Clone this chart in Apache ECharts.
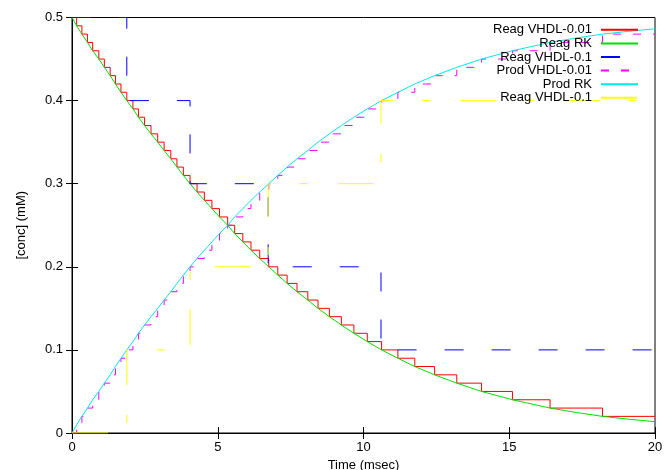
<!DOCTYPE html>
<html><head><meta charset="utf-8">
<script src="https://cdn.jsdelivr.net/npm/echarts@6/dist/echarts.min.js"></script>
<style>html,body{margin:0;padding:0;background:#fff}#c{width:664px;height:470px}</style>
</head><body><div id="c"></div>
<script>
// ---- tick labels ----
const xTickLabels = ['0', '5', '10', '15', '20'];
const yTickLabels = ['0', '0.1', '0.2', '0.3', '0.4', '0.5'];

// ---- series names (legend order) ----
const seriesNames = ['Reag VHDL-0.01', 'Reag RK', 'Reag VHDL-0.1', 'Prod VHDL-0.01', 'Prod RK', 'Reag VHDL-0.1 '];

// ---- VHDL, 0.01 resolution: times at which the level changes ----
const stepTimes001 = [0, 0.16, 0.34, 0.53, 0.71, 0.92, 1.11, 1.31, 1.49, 1.68, 1.88, 2.09, 2.28, 2.49, 2.71, 2.94, 3.16, 3.39, 3.60, 3.82,
  4.05, 4.29, 4.54, 4.80, 5.06, 5.34, 5.58, 5.86, 6.14, 6.44, 6.75, 7.06, 7.38, 7.72, 8.09, 8.44, 8.83, 9.24, 9.67, 10.13,
  10.62, 11.18, 11.76, 12.44, 13.20, 14.05, 15.11, 16.40, 18.20, 20];
const reagLevels001 = [0.50, 0.49, 0.48, 0.47, 0.46, 0.45, 0.44, 0.43, 0.42, 0.41, 0.40, 0.39, 0.38, 0.37, 0.36, 0.35, 0.34, 0.33, 0.32, 0.31,
  0.30, 0.29, 0.28, 0.27, 0.26, 0.25, 0.24, 0.23, 0.22, 0.21, 0.20, 0.19, 0.18, 0.17, 0.16, 0.15, 0.14, 0.13, 0.12, 0.11,
  0.10, 0.09, 0.08, 0.07, 0.06, 0.05, 0.04, 0.03, 0.02, 0.02];
const prodLevels001 = [0, 0.01, 0.02, 0.03, 0.04, 0.05, 0.06, 0.07, 0.08, 0.09, 0.10, 0.11, 0.12, 0.13, 0.14, 0.15, 0.16, 0.17, 0.18, 0.19,
  0.20, 0.21, 0.22, 0.23, 0.24, 0.25, 0.26, 0.27, 0.28, 0.29, 0.30, 0.31, 0.32, 0.33, 0.34, 0.35, 0.36, 0.37, 0.38, 0.39,
  0.40, 0.41, 0.42, 0.43, 0.44, 0.45, 0.46, 0.47, 0.48, 0.48];

// ---- VHDL, 0.1 resolution ----
const stepTimes01 = [0, 1.88, 4.05, 6.73, 10.6, 20];
const reagLevels01 = [0.5, 0.4, 0.3, 0.2, 0.1, 0.1];
const prodLevels01 = [0, 0.1, 0.2, 0.3, 0.4, 0.4];

// ---- Runge-Kutta curves (read where they touch the step corners) ----
const rkTimes = [0, 0.16, 0.34, 0.53, 0.71, 0.92, 1.11, 1.31, 1.49, 1.68, 1.88, 2.09, 2.28, 2.49, 2.71, 2.94, 3.16, 3.39, 3.60, 3.82,
  4.05, 4.29, 4.54, 4.80, 5.06, 5.34, 5.58, 5.86, 6.14, 6.44, 6.75, 7.06, 7.38, 7.72, 8.09, 8.44, 8.83, 9.24, 9.67, 10.13,
  10.62, 11.18, 11.76, 12.44, 13.20, 14.05, 15.11, 16.40, 17.3, 18.20, 19.1, 20];
const reagRK = [0.50, 0.49, 0.48, 0.47, 0.46, 0.45, 0.44, 0.43, 0.42, 0.41, 0.40, 0.39, 0.38, 0.37, 0.36, 0.35, 0.34, 0.33, 0.32, 0.31,
  0.30, 0.29, 0.28, 0.27, 0.26, 0.25, 0.24, 0.23, 0.22, 0.21, 0.20, 0.19, 0.18, 0.17, 0.16, 0.15, 0.14, 0.13, 0.12, 0.11,
  0.10, 0.09, 0.08, 0.07, 0.06, 0.05, 0.04, 0.03, 0.0247, 0.02, 0.0166, 0.0136];
const prodRK = [0, 0.01, 0.02, 0.03, 0.04, 0.05, 0.06, 0.07, 0.08, 0.09, 0.10, 0.11, 0.12, 0.13, 0.14, 0.15, 0.16, 0.17, 0.18, 0.19,
  0.20, 0.21, 0.22, 0.23, 0.24, 0.25, 0.26, 0.27, 0.28, 0.29, 0.30, 0.31, 0.32, 0.33, 0.34, 0.35, 0.36, 0.37, 0.38, 0.39,
  0.40, 0.41, 0.42, 0.43, 0.44, 0.45, 0.46, 0.47, 0.4753, 0.48, 0.4834, 0.4864];

const pairs = (xs, ys) => xs.map((x, i) => [x, ys[i]]);

const font = 'Liberation Sans, Arial, Helvetica, sans-serif';
const xMin = +xTickLabels[0], xMax = +xTickLabels[xTickLabels.length - 1], xInt = +xTickLabels[1] - +xTickLabels[0];
const yMin = +yTickLabels[0], yMax = +yTickLabels[yTickLabels.length - 1], yInt = +yTickLabels[1] - +yTickLabels[0];

const axisCommon = {
  axisLine: { show: true, lineStyle: { color: '#000', width: 1 } },
  axisTick: { show: true, inside: true, length: 6, lineStyle: { color: '#000' } },
  splitLine: { show: false },
  minorTick: { show: false }
};

function lineSeries(name, data, color, dash, step) {
  const s = {
    name: name, type: 'line', data: data, symbol: 'none', showSymbol: false,
    animation: false, clip: true, smooth: false,
    lineStyle: { color: color, width: 1, type: dash || 'solid' },
    itemStyle: { color: color },
    emphasis: { disabled: true }
  };
  if (step) s.step = 'end';
  return s;
}

const chart = echarts.init(document.getElementById('c'), null, { renderer: 'canvas' });
chart.setOption({
  backgroundColor: '#fff',
  animation: false,
  textStyle: { fontFamily: font },
  grid: { left: 72, right: 9, top: 17.5, bottom: 37, show: true, borderColor: '#000', borderWidth: 1, backgroundColor: 'transparent', outerBoundsMode: 'none' },
  legend: {
    orient: 'vertical', align: 'right', right: 25, top: 23, padding: 0,
    itemWidth: 37, itemHeight: 12, itemGap: 0,
    selectedMode: false,
    itemStyle: { color: 'transparent', borderWidth: 0, opacity: 0 },
    textStyle: { color: '#000', fontSize: 13, fontFamily: font, lineHeight: 13.6, padding: [0, 4, 0, 0] },
    formatter: n => n.trim(),
    data: seriesNames
  },
  xAxis: [
    Object.assign({}, axisCommon, {
      type: 'value', position: 'bottom', min: xMin, max: xMax, interval: xInt,
      name: 'Time (msec)', nameLocation: 'middle', nameGap: 23,
      nameTextStyle: { color: '#000', fontSize: 13, fontFamily: font },
      axisLabel: { color: '#000', fontSize: 13, fontFamily: font, margin: 8 }
    }),
    Object.assign({}, axisCommon, {
      type: 'value', position: 'top', min: xMin, max: xMax, interval: xInt,
      axisLabel: { show: false }
    })
  ],
  yAxis: [
    Object.assign({}, axisCommon, {
      type: 'value', position: 'left', min: yMin, max: yMax, interval: yInt,
      name: '[conc] (mM)', nameLocation: 'middle', nameGap: 44, nameRotate: 90,
      nameTextStyle: { color: '#000', fontSize: 13, fontFamily: font },
      axisLabel: { color: '#000', fontSize: 13, fontFamily: font, margin: 9 }
    }),
    Object.assign({}, axisCommon, {
      type: 'value', position: 'right', min: yMin, max: yMax, interval: yInt,
      axisLabel: { show: false }
    })
  ],
  series: [
    lineSeries(seriesNames[0], pairs(stepTimes001, reagLevels001), '#ff0000', null, true),
    lineSeries(seriesNames[1], pairs(rkTimes, reagRK), '#00e000', null, false),
    lineSeries(seriesNames[2], pairs(stepTimes01, reagLevels01), '#0000ff', [19, 28], true),
    lineSeries(seriesNames[3], pairs(stepTimes001, prodLevels001), '#ff00ff', [8, 12], true),
    lineSeries(seriesNames[4], pairs(rkTimes, prodRK), '#00e8e8', null, false),
    lineSeries(seriesNames[5], pairs(stepTimes01, prodLevels01), '#ffff00', [36, 29, 8, 30], true)
  ]
});
</script>
</body></html>
